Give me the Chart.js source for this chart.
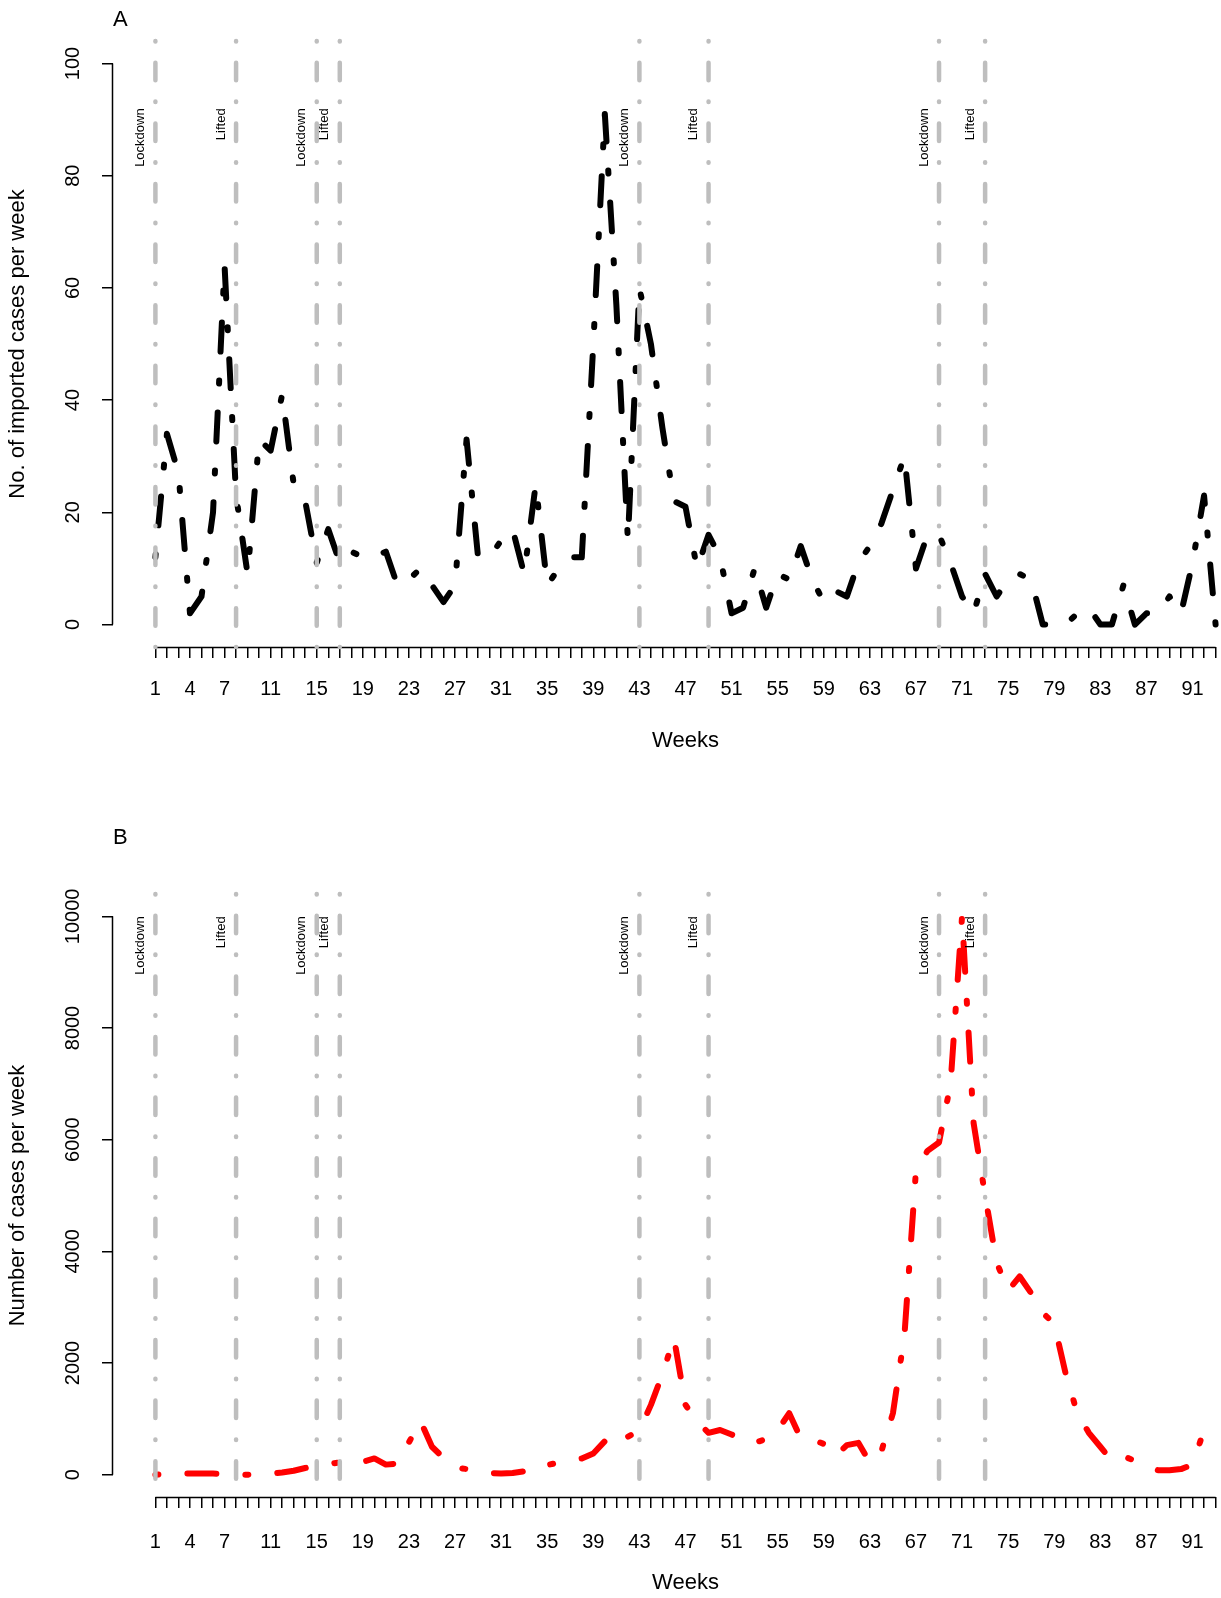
<!DOCTYPE html>
<html>
<head>
<meta charset="utf-8">
<script src="https://cdn.jsdelivr.net/npm/chart.js@4.4.1/dist/chart.umd.min.js"></script>
<style>
  html, body { margin: 0; padding: 0; background: #fff; overflow: hidden; width: 1221px; height: 1598px; }
  canvas { position: absolute; left: 0; }
  #plotA { top: 0; }
  #plotB { top: 780px; }
</style>
</head>
<body>
<canvas id="plotA" width="1270" height="760"></canvas>
<canvas id="plotB" width="1270" height="818"></canvas>
<script>
// weeks since the start of the series
const weeks = [1,2,3,4,5,6,7,8,9,10,11,12,13,14,15,16,17,18,19,20,21,22,23,24,25,26,27,28,29,30,
  31,32,33,34,35,36,37,38,39,40,41,42,43,44,45,46,47,48,49,50,51,52,53,54,55,56,57,58,59,60,
  61,62,63,64,65,66,67,68,69,70,71,72,73,74,75,76,77,78,79,80,81,82,83,84,85,86,87,88,89,90,91,92,93];

// panel A: imported cases per week
const importedCases = [12,34,27,2,5,20,64,23,9,33, 31,41,25,22,11,17,11,13,12,12,
  13,7,8,10,7,4,7,33,12,12, 15,17,9,25,7,10,12,12,50,91,
  57,15,60,50,35,22,21,10,16,12, 2,3,10,3,9,8,14,8,4,6,
  5,11,14,18,24,30,10,16,16,11, 5,2,9,5,8,9,8,0,0,0,
  2,3,0,0,7,0,2,2,5,2, 11,23,0];

// panel B: all cases per week
const totalCases = [0,15,20,20,20,20,15,0,0,5, 15,40,70,120,170,190,220,230,230,290,
  180,200,580,960,500,300,130,100,60,30, 20,30,60,60,170,220,260,290,380,600,
  500,680,790,1250,1800,2450,1250,950,750,800, 720,610,570,640,800,1100,650,630,550,330,
  530,570,220,420,1100,2500,5450,5800,5950,7000, 10000,6300,5000,3800,3300,3550,3250,2900,2700,1800,
  1100,750,500,250,330,250,150,80,80,100, 180,800,830];

const xTickLabels = [1,4,7,11,15,19,23,27,31,35,39,43,47,51,55,59,63,67,71,75,79,83,87,91];
const yTicksA = [0,20,40,60,80,100];
const yTicksB = [0,2000,4000,6000,8000,10000];

const eventWeeks = [1,8,15,17,43,49,69,73];
const eventLabels = ['Lockdown','Lifted','Lockdown','Lifted','Lockdown','Lifted','Lockdown','Lifted'];

Chart.defaults.font.family = "'Liberation Sans', Arial, Helvetica, sans-serif";
Chart.defaults.color = '#000';

// R-like axes, event lines and panel letter
const rStyle = {
  id: 'rStyle',
  afterDatasetsDraw(chart, args, opts) {
    const {ctx, chartArea, scales: {x, y}} = chart;
    ctx.save();

    // axis lines only span first..last tick, like base R
    ctx.strokeStyle = '#000';
    ctx.lineWidth = 1.5;
    ctx.beginPath();
    const yb = chartArea.bottom + 0.5;
    ctx.moveTo(x.getPixelForValue(weeks[0]), yb);
    ctx.lineTo(x.getPixelForValue(weeks[weeks.length - 1]), yb);
    const xl = chartArea.left - 0.5;
    ctx.moveTo(xl, y.getPixelForValue(opts.yTicks[0]));
    ctx.lineTo(xl, y.getPixelForValue(opts.yTicks[opts.yTicks.length - 1]));
    ctx.stroke();

    // grey dot-dash event lines
    ctx.strokeStyle = '#bebebe';
    ctx.lineWidth = 4.5;
    ctx.lineCap = 'round';
    ctx.setLineDash([0.5, 21.3, 17.5, 21.3]);
    eventWeeks.forEach(w => {
      const px = x.getPixelForValue(w);
      ctx.beginPath();
      ctx.moveTo(px, chartArea.top);
      ctx.lineTo(px, chartArea.bottom);
      ctx.stroke();
    });
    ctx.setLineDash([]);

    ctx.fillStyle = '#000';
    ctx.font = "13px 'Liberation Sans', Arial, sans-serif";
    ctx.textAlign = 'right';
    ctx.textBaseline = 'middle';
    const ly = y.getPixelForValue(opts.labelAt);
    eventWeeks.forEach((w, i) => {
      ctx.save();
      ctx.translate(x.getPixelForValue(w) - 15, ly);
      ctx.rotate(-Math.PI / 2);
      ctx.fillText(eventLabels[i], 0, 0);
      ctx.restore();
    });

    ctx.font = "22px 'Liberation Sans', Arial, sans-serif";
    ctx.textAlign = 'left';
    ctx.fillText(opts.letter, chartArea.left, opts.letterY);
    ctx.restore();
  }
};

function makePanel(id, values, color, yTicks, yMin, yMax, yTitle, opts) {
  const ctx = document.getElementById(id).getContext('2d');
  return new Chart(ctx, {
    type: 'line',
    data: {
      datasets: [{
        data: weeks.map((w, i) => ({x: w, y: values[i]})),
        borderColor: color,
        borderWidth: 6,
        borderDash: [3, 29, 29, 29],
        borderCapStyle: 'round',
        borderJoinStyle: 'round',
        pointRadius: 0,
        tension: 0,
        fill: false
      }]
    },
    options: {
      responsive: false,
      animation: false,
      events: [],
      layout: { padding: { top: opts.top, right: 12, left: 0, bottom: 0 } },
      plugins: {
        legend: { display: false },
        tooltip: { enabled: false },
        rStyle: { yTicks: yTicks, labelAt: opts.labelAt, letter: opts.letter, letterY: opts.letterY }
      },
      scales: {
        x: {
          type: 'linear',
          min: -2.68,
          max: 96.68,
          afterBuildTicks: s => { s.ticks = weeks.map(v => ({value: v})); },
          afterFit: s => { s.height = opts.xHeight; },
          grid: { drawOnChartArea: false, drawTicks: true, tickLength: 11, color: '#000', lineWidth: 1.5 },
          border: { display: false },
          ticks: {
            autoSkip: false, maxRotation: 0, minRotation: 0, padding: opts.xPad,
            font: { size: 20 },
            callback: v => xTickLabels.includes(v) ? String(v) : ''
          },
          title: { display: true, text: 'Weeks', font: { size: 22 }, padding: { top: 0, bottom: opts.titlePad } }
        },
        y: {
          min: yMin,
          max: yMax,
          afterBuildTicks: s => { s.ticks = yTicks.map(v => ({value: v})); },
          afterFit: s => { s.width = 113; },
          grid: { drawOnChartArea: false, drawTicks: true, tickLength: 11, color: '#000', lineWidth: 1.5 },
          border: { display: false },
          ticks: {
            minRotation: 90, maxRotation: 90, crossAlign: 'center', padding: opts.yPad,
            font: { size: 20 },
            callback: v => String(v)
          },
          title: { display: true, text: yTitle, font: { size: 22 }, padding: { top: 5, bottom: 0 } }
        }
      }
    },
    plugins: [rStyle]
  });
}

makePanel('plotA', importedCases, '#000000', yTicksA, -4, 104, 'No. of imported cases per week',
  { top: 41, xHeight: 113, xPad: 19, titlePad: 6, yPad: 12, labelAt: 92, letter: 'A', letterY: 20 });
makePanel('plotB', totalCases, '#ff0000', yTicksB, -400, 10400, 'Number of cases per week',
  { top: 114, xHeight: 101, xPad: 22, titlePad: 2, yPad: 1, labelAt: 10000, letter: 'B', letterY: 58 });
</script>
</body>
</html>
